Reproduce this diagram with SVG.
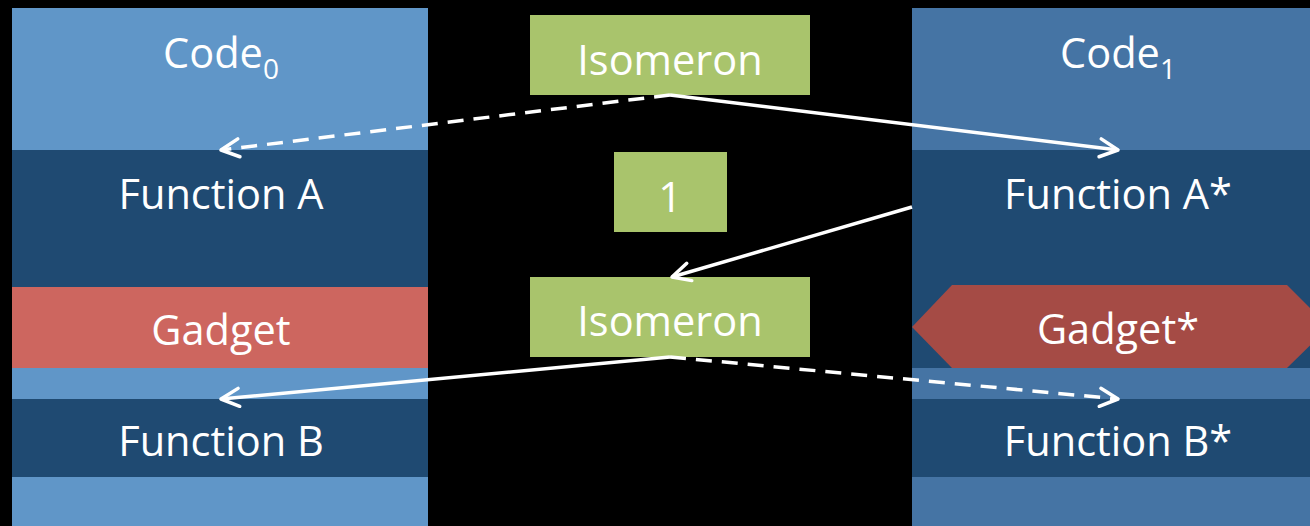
<svg xmlns="http://www.w3.org/2000/svg" width="1310" height="526" viewBox="0 0 1310 526">
<defs>
<style>
.t{font-family:"Open Sans","Liberation Sans",sans-serif;font-size:41.5px;fill:#fff;text-anchor:middle}
.sub{font-size:28px}
.c{stroke:#fff;stroke-width:3.5;fill:none}
.d{stroke-dasharray:16,10}
</style>
<marker id="ah" viewBox="0 0 24 24" refX="21" refY="12" markerWidth="24" markerHeight="24" markerUnits="userSpaceOnUse" orient="auto">
<path d="M3,3 L21,12 L3,21" fill="none" stroke="#fff" stroke-width="3.5" stroke-linecap="round" stroke-linejoin="round"/>
</marker>
</defs>
<rect width="1310" height="526" fill="#000"/>
<g id="code0">
<rect x="12" y="8" width="416" height="518" fill="#6096c8"/>
<text class="t" x="221" y="68">Code<tspan class="sub" dy="11">0</tspan></text>
</g>
<g id="functionA">
<rect x="12" y="150" width="416" height="137" fill="#1f4a72"/>
<text class="t" x="221" y="209">Function A</text>
</g>
<g id="gadget">
<rect x="12" y="287" width="416" height="81" fill="#cd665f"/>
<text class="t" x="221" y="345">Gadget</text>
</g>
<g id="functionB">
<rect x="12" y="399" width="416" height="78" fill="#1f4a72"/>
<text class="t" x="221" y="456">Function B</text>
</g>
<g id="code1">
<rect x="912" y="8" width="398" height="518" fill="#4574a4"/>
<text class="t" x="1118" y="68">Code<tspan class="sub" dy="11">1</tspan></text>
</g>
<g id="functionAstar">
<rect x="912" y="150" width="398" height="218" fill="#1f4a72"/>
<text class="t" x="1118" y="209">Function A*</text>
</g>
<g id="gadgetstar">
<polygon points="912,327 952,285 1287,285 1329,327 1287,368 952,368" fill="#a54b45"/>
<text class="t" x="1118" y="344">Gadget*</text>
</g>
<g id="functionBstar">
<rect x="912" y="399" width="398" height="78" fill="#1f4a72"/>
<text class="t" x="1118" y="456">Function B*</text>
</g>
<g id="isomeron1">
<rect x="530" y="15" width="280" height="80" fill="#a9c46c"/>
<text class="t" x="670" y="75">Isomeron</text>
</g>
<g id="one">
<rect x="614" y="152" width="113" height="80" fill="#a9c46c"/>
<text class="t" x="670" y="212">1</text>
</g>
<g id="isomeron2">
<rect x="530" y="277" width="280" height="80" fill="#a9c46c"/>
<text class="t" x="670" y="336">Isomeron</text>
</g>
<g id="connectors">
<line class="c d" x1="670" y1="95" x2="221" y2="150" marker-end="url(#ah)"/>
<line class="c" x1="670" y1="95" x2="1118" y2="150" marker-end="url(#ah)"/>
<line class="c" x1="912" y1="207" x2="672" y2="277" marker-end="url(#ah)"/>
<line class="c" x1="670" y1="357" x2="221" y2="399" marker-end="url(#ah)"/>
<line class="c d" x1="670" y1="357" x2="1118" y2="399" marker-end="url(#ah)"/>
</g>
</svg>
